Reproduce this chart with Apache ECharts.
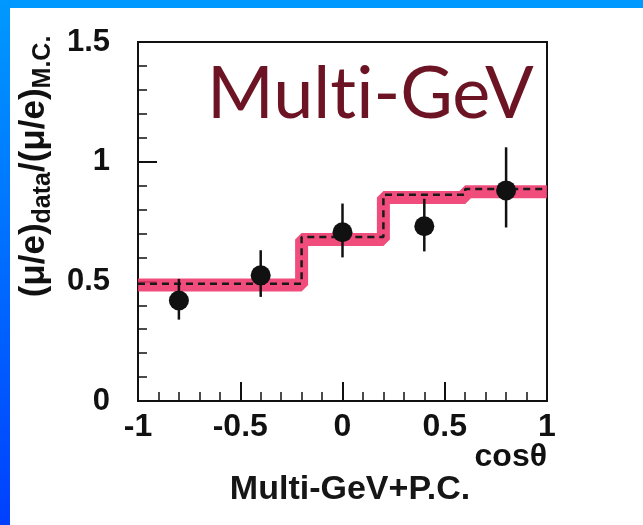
<!DOCTYPE html>
<html>
<head>
<meta charset="utf-8">
<script src="https://cdn.jsdelivr.net/npm/echarts@6/dist/echarts.min.js"></script>
<style>
  html, body { margin: 0; padding: 0; background: #fff; }
  #chart { width: 643px; height: 525px; }
</style>
</head>
<body>
<div id="chart"></div>
<script>
// bin edges of the M.C. histogram (cos theta)
var binEdges = [-1, -0.6, -0.2, 0.2, 0.6, 1];
// M.C. expectation (dashed line) and the pink band centre
var mcValues = [0.49, 0.49, 0.685, 0.862, 0.886];
var bandValues = [0.485, 0.485, 0.675, 0.85, 0.874];
// data points
var cosTheta = [-0.8, -0.4, 0, 0.4, 0.8];
var ratio = [0.42, 0.525, 0.705, 0.73, 0.88];
var errLow = [0.34, 0.435, 0.60, 0.625, 0.725];
var errHigh = [0.51, 0.63, 0.825, 0.845, 1.06];
// tick labels
var xTicks = [-1, -0.5, 0, 0.5, 1];
var yTicks = [0, 0.5, 1, 1.5];

function stepData(vals) {
    return binEdges.map(function (e, i) {
        return [e, vals[Math.min(i, vals.length - 1)]];
    });
}

var chart = echarts.init(document.getElementById('chart'));
var labelFont = 'Liberation Sans, Arial, sans-serif';

var option = {
    backgroundColor: '#fff',
    animation: false,
    title: {
        text: 'Multi-GeV+P.C.',
        left: 345,
        top: 468,
        textAlign: 'center',
        textStyle: { fontFamily: labelFont, fontWeight: 'bold', fontSize: 34, color: '#161616' }
    },
    grid: {
        left: 138, right: 96, top: 42, bottom: 124,
        show: true, borderColor: '#111', borderWidth: 2, backgroundColor: 'transparent'
    },
    xAxis: {
        type: 'value', min: -1, max: 1, interval: 0.5,
        axisLine: { onZero: false, lineStyle: { color: '#111', width: 2 } },
        axisTick: { inside: true, length: 19, lineStyle: { color: '#111', width: 2 } },
        minorTick: { show: true, splitNumber: 5, length: 9, lineStyle: { color: '#111', width: 1.5 } },
        splitLine: { show: false },
        axisLabel: {
            margin: 10, color: '#111', fontFamily: labelFont, fontWeight: 'bold', fontSize: 32,
            formatter: function (v) { return xTicks.indexOf(v) >= 0 ? String(v) : ''; }
        }
    },
    yAxis: {
        type: 'value', min: 0, max: 1.5, interval: 0.5,
        axisLine: { onZero: false, lineStyle: { color: '#111', width: 2 } },
        axisTick: { inside: true, length: 19, lineStyle: { color: '#111', width: 2 } },
        minorTick: { show: true, splitNumber: 5, length: 9, lineStyle: { color: '#111', width: 1.5 } },
        splitLine: { show: false },
        axisLabel: {
            margin: 28, color: '#111', fontFamily: labelFont, fontWeight: 'bold', fontSize: 31,
            formatter: function (v) { return yTicks.indexOf(v) >= 0 ? String(v) : ''; }
        },
        name: '{a|(μ/e)}{s|data}{a|/(μ/e)}{s|M.C.}',
        nameLocation: 'middle',
        nameRotate: 90,
        nameGap: 80,
        nameTextStyle: {
            padding: [0, 0, 0, 110],
            rich: {
                a: { fontFamily: labelFont, fontWeight: 'bold', fontSize: 35, color: '#111', lineHeight: 44, verticalAlign: 'middle' },
                s: { fontFamily: labelFont, fontWeight: 'bold', fontSize: 25, color: '#111', lineHeight: 44, verticalAlign: 'bottom' }
            }
        }
    },
    graphic: [
        { type: 'rect', left: 0, top: 0, shape: { width: 643, height: 8 }, style: { fill: '#0099ff' } },
        {
            type: 'rect', left: 0, top: 0, shape: { width: 10, height: 525 },
            style: {
                fill: new echarts.graphic.LinearGradient(0, 0, 0, 1, [
                    { offset: 0, color: '#0099ff' }, { offset: 1, color: '#0040ff' }
                ])
            }
        },
        {
            // zero-width non-joiner keeps "t" and "i" apart (no ligature)
            type: 'text', left: 207, top: 59,
            style: { text: 'Mult\u200Ci-GeV', font: '72px Lato, sans-serif', fill: '#6c1424' }
        },
        {
            type: 'text', right: 96, top: 441,
            style: { text: 'cosθ', font: 'bold 32px Liberation Sans, Arial, sans-serif', fill: '#111' }
        }
    ],
    series: [
        {
            name: 'band', type: 'line', step: 'end', symbol: 'none', silent: true,
            data: stepData(bandValues),
            lineStyle: { color: '#ee3a6e', width: 13, opacity: 0.9 }, z: 1
        },
        {
            name: 'M.C.', type: 'line', step: 'end', symbol: 'none', silent: true,
            data: stepData(mcValues),
            lineStyle: { color: '#1a1a1a', width: 2.5, type: [7, 5] }, z: 2
        },
        {
            name: 'errors', type: 'custom', z: 3,
            data: cosTheta.map(function (x, i) { return [x, errLow[i], errHigh[i]]; }),
            renderItem: function (params, api) {
                var lo = api.coord([api.value(0), api.value(1)]);
                var hi = api.coord([api.value(0), api.value(2)]);
                return {
                    type: 'line',
                    shape: { x1: lo[0], y1: lo[1], x2: hi[0], y2: hi[1] },
                    style: { stroke: '#111', lineWidth: 2.5 }
                };
            }
        },
        {
            name: 'data', type: 'scatter', z: 4,
            symbol: 'circle', symbolSize: 20,
            itemStyle: { color: '#111', opacity: 1 },
            data: cosTheta.map(function (x, i) { return [x, ratio[i]]; })
        }
    ]
};

chart.setOption(option);
</script>
</body>
</html>
